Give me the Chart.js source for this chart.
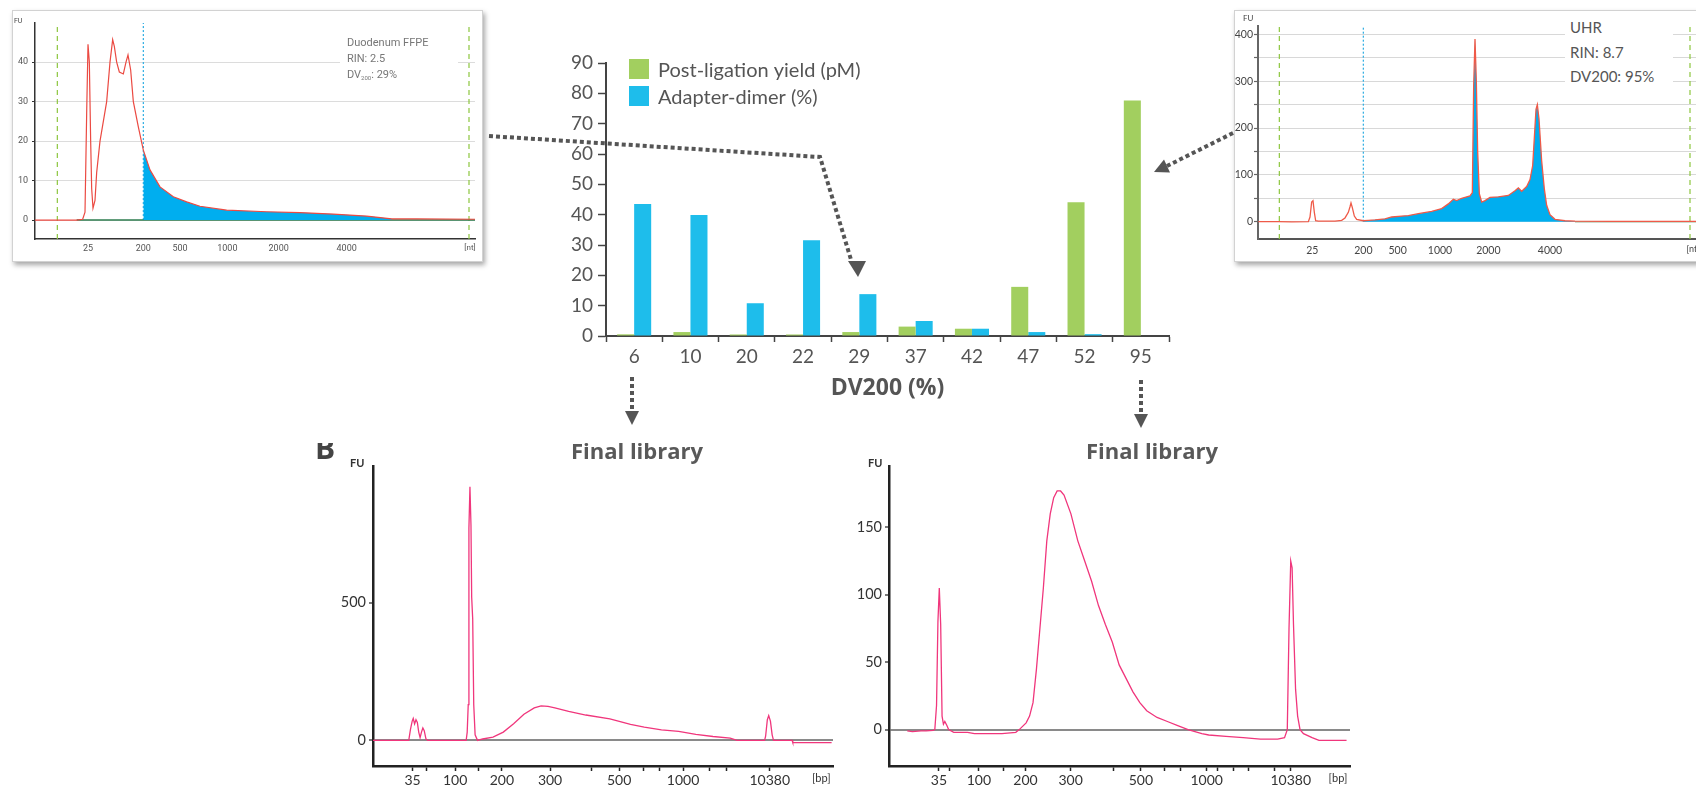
<!DOCTYPE html>
<html>
<head>
<meta charset="utf-8">
<script src="https://cdn.jsdelivr.net/npm/chart.js@4.4.1/dist/chart.umd.min.js"></script>
<style>
  html, body { margin: 0; padding: 0; background: #fff; }
  #page { position: relative; width: 1696px; height: 786px; overflow: hidden; background: #fff; }
  canvas { position: absolute; }
  .box { position: absolute; box-sizing: border-box; background: #fff; border: 1px solid #d2d2d2; box-shadow: 2px 3px 5px rgba(0,0,0,.35); }
  .txt { position: absolute; white-space: nowrap; }
  .title { font: bold 22px "Open Sans", sans-serif; color: #595959; transform: translateX(-50%); }
  .fu { font: bold 11px Lato, sans-serif; color: #333; }
</style>
</head>
<body>
<div id="page">
  <div class="box" style="left:12px;top:10px;width:471px;height:252px"></div>
  <div class="box" style="left:1234px;top:10px;width:520px;height:252px"></div>

  <canvas id="ffpe" width="469" height="250" style="left:13px;top:11px"></canvas>
  <canvas id="uhr" width="480" height="250" style="left:1235px;top:11px"></canvas>
  <canvas id="bars" width="640" height="370" style="left:540px;top:40px"></canvas>
  <canvas id="lib6" width="520" height="331" style="left:320px;top:455px"></canvas>
  <canvas id="lib95" width="510" height="331" style="left:850px;top:455px"></canvas>

  <!-- inset captions -->
  <div class="txt" style="left:340px;top:35px;width:118px;height:48px;background:#fff"></div>
  <div class="txt" style="left:347px;top:35px;font:11px Roboto,sans-serif;color:#777;line-height:16px">
    Duodenum FFPE<br>RIN: 2.5<br>DV<sub style="font-size:6px;vertical-align:-2px">200</sub>: 29%
  </div>
  <div class="txt" style="left:14px;top:17px;font:7px Roboto,sans-serif;color:#444">FU</div>

  <div class="txt" style="left:1565px;top:15px;width:108px;height:74px;background:#fff"></div>
  <div class="txt" style="left:1570px;top:15px;font:15px Lato,sans-serif;color:#555;line-height:24.5px">
    UHR<br>RIN: 8.7<br>DV200: 95%
  </div>
  <div class="txt" style="left:1243px;top:13px;font:8px Lato,sans-serif;color:#444">FU</div>

  <!-- final library captions -->
  <div class="txt" style="left:312px;top:443px;width:30px;height:18px;overflow:hidden">
    <div style="position:absolute;left:3px;top:-10px;font:bold 30px 'Open Sans',sans-serif;color:#444;line-height:30px">B</div>
  </div>
  <div class="txt title" style="left:637px;top:435px">Final library</div>
  <div class="txt title" style="left:1152px;top:435px">Final library</div>
  <div class="txt fu" style="left:350px;top:456px">FU</div>
  <div class="txt fu" style="left:868px;top:456px">FU</div>

  <svg width="1696" height="786" style="position:absolute;left:0;top:0;pointer-events:none">
    <g stroke="#555" stroke-width="4" stroke-dasharray="4 3" fill="none">
      <polyline points="489,136 820,157 852,263"/>
      <line x1="1233" y1="133" x2="1167" y2="166"/>
      <line x1="632" y1="377" x2="632" y2="412"/>
      <line x1="1141" y1="380" x2="1141" y2="414"/>
    </g>
    <g fill="#555">
      <polygon points="848,261 866,261 858,277"/>
      <polygon points="1154,172 1164,159.5 1170,172.5"/>
      <polygon points="625,411 639,411 632,425"/>
      <polygon points="1134,414 1148,414 1141,428"/>
    </g>
  </svg>
</div>

<script>
// ---------- bar chart: yield / adapter-dimer vs DV200
const dv200 = ['6', '10', '20', '22', '29', '37', '42', '47', '52', '95'];
const yieldPM = [0.55, 1.3, 0.5, 0.5, 1.3, 3.1, 2.4, 16.2, 44.1, 77.6];
const dimerPct = [43.5, 39.9, 10.8, 31.6, 13.8, 4.95, 2.4, 1.3, 0.6, 0];

// ---------- electropherograms (t = migration position, arbitrary units)
// Duodenum FFPE RNA
const ffpeT = [10.5, 17, 23, 24.8, 25.5, 26.0, 26.4, 26.8, 27.2, 27.5, 27.9, 28.5, 29, 30, 32, 33, 33.8, 34.3, 35, 35.8,
               37, 37.8, 38.4, 39.2, 40, 41.5, 43, 45, 48, 52, 56, 60, 68, 80, 90, 100, 110, 117.5, 125, 142.5];
const ffpeFU = [0, 0, 0, 0.2, 2, 27, 44.5, 40, 20, 8, 3, 5, 12, 20, 30, 40, 45.7, 44, 40, 37.5,
                37, 40, 41.8, 38, 30, 23.6, 17.7, 12.7, 8.4, 5.9, 4.6, 3.5, 2.5, 2.1, 1.9, 1.5, 1.0, 0.3, 0.3, 0.2];
const ffpeLadderPos = [26.4, 43.0, 54.0, 68.2, 83.6, 104.0, 141.0];
const ffpeLadderLbl = ['25', '200', '500', '1000', '2000', '4000', '[nt]'];
const ffpeFUTicks = [0, 10, 20, 30, 40];

// UHR RNA
const uhrT = [10, 16, 20, 25, 25.5, 26, 26.4, 26.8, 27.2, 28, 33, 35, 36, 37, 37.5, 37.8, 38.2, 38.8, 39.5, 41.5,
              43, 45, 48, 50, 53, 55, 58, 62, 65, 67, 68.5, 69.5, 71, 72, 73.5, 74.2, 74.6, 75.0, 75.4, 75.8,
              76.3, 77, 78, 79.5, 82, 85, 87, 88, 89, 90.5, 91.5, 92.3, 92.8, 93.3, 93.7, 94.2, 95, 95.8, 96.5, 97.5,
              99, 102, 105, 116, 145.5];
const uhrFU = [0, 0, -0.5, 0, 10, 42, 45, 20, 2, 1, 1, 3, 8, 20, 32, 40, 30, 12, 5, 2,
               3, 4, 6, 10, 12, 13, 17, 22, 28, 38, 48, 45, 50, 52, 55, 62, 290, 390, 300, 150,
               60, 42, 45, 52, 53, 56, 66, 72, 65, 75, 90, 120, 180, 240, 250, 220, 130, 70, 35, 15,
               5, 2, 1, 0.5, 0.5];
const uhrLadderPos = [26.2, 41.5, 51.8, 64.5, 79.0, 97.5, 140.5];
const uhrLadderLbl = ['25', '200', '500', '1000', '2000', '4000', '[nt]'];
const uhrFUTicks = [0, 50, 100, 150, 200, 250, 300, 350, 400];

// Final library, DV200 = 6
const lib6T = [21, 31.5, 32, 32.5, 32.8, 33.2, 33.6, 34.0, 34.4, 34.8, 35.2, 35.6, 36.0, 36.5, 37, 48.2, 48.5, 48.8, 49.0, 49.3,
               49.6, 49.8, 50.1, 50.4, 50.8, 51.5, 53, 56, 59, 62, 65, 68, 70, 72, 74, 78, 83, 90, 96, 100,
               105, 110, 115, 120, 125, 127, 135, 135.3, 135.8, 136.2, 136.7, 137.2, 137.6, 143, 143.2, 154.5];
const lib6FU = [0, 0, 40, 70, 80, 60, 75, 65, 30, 10, 30, 45, 35, 5, 0, 0, 30, 130, 770, 920,
                780, 520, 440, 130, 20, 0, 5, 12, 30, 60, 95, 118, 125, 123, 118, 105, 92, 78, 58, 48,
                38, 33, 22, 14, 8, 0, 0, 15, 75, 90, 70, 20, 0, 0, -8, -8];
const lib6Pos = [32.6, 36.6, 45.0, 51.8, 58.6, 72.6, 84.7, 92.7, 99.7, 104.3, 111.3, 119.1, 123.9, 136.5, 151.5];
const lib6Lbl = ['35', '', '100', '', '200', '300', '', '500', '', '', '1000', '', '', '10380', '[bp]'];
const lib6FUTicks = [0, 500];

// Final library, DV200 = 95
const lib95T = [22.5, 24, 26.5, 28, 30, 30.5, 31, 31.4, 31.8, 32.2, 32.6, 33, 33.4, 34, 34.5, 36, 40, 42, 50, 54,
                55, 57, 58, 59, 60, 61, 62, 63, 64, 65, 66, 67, 68, 70, 72, 74, 76, 78, 80, 82,
                84, 86, 88, 90, 92, 95, 98, 101, 104, 108, 110, 115, 120, 125, 130, 132, 132.8, 133.3, 133.8, 134.2,
                134.6, 135.2, 135.8, 136.5, 137.5, 140, 142, 150];
const lib95FU = [-1, -1.5, -1, -1, -0.5, 0, 18, 80, 105, 78, 10, 4, 6, 3, 0, -2, -2, -3, -3, -2,
                 0, 5, 10, 20, 45, 75, 105, 140, 160, 172, 177, 177, 174, 160, 140, 125, 110, 92, 78, 65,
                 48, 38, 28, 20, 14, 9, 6, 3, 0, -3, -4, -5, -6, -7, -7, -6, 0, 75, 125, 120,
                 78, 30, 10, 0, -3, -6, -8, -8];
const lib95Pos = [31.7, 34.9, 43.3, 50.3, 56.8, 69.9, 82.3, 90.3, 97.3, 101.9, 109.4, 112.6, 117.1, 121.5, 129.0, 133.8, 147.5];
const lib95Lbl = ['35', '', '100', '', '200', '300', '', '500', '', '', '1000', '', '', '', '', '10380', '[bp]'];
const lib95FUTicks = [0, 50, 100, 150];

const GREEN = '#A2CF5F';
const BLUE = '#1EBDEB';

function pts(xs, ys) {
    return xs.map((x, i) => ({ x, y: ys[i] }));
}

// Legend drawn inside the plot area, top-left
const cornerLegend = {
    id: 'cornerLegend',
    afterDraw(chart) {
        const { ctx, chartArea } = chart;
        ctx.save();
        ctx.font = '20px Lato';
        ctx.textBaseline = 'middle';
        chart.data.datasets.forEach((ds, i) => {
            const y = chartArea.top - 4 + i * 27;
            ctx.fillStyle = ds.backgroundColor;
            ctx.fillRect(chartArea.left + 23, y, 20, 20);
            ctx.fillStyle = '#555';
            ctx.fillText(ds.label, chartArea.left + 52, y + 11.5);
        });
        ctx.restore();
    }
};

new Chart(document.getElementById('bars'), {
    type: 'bar',
    data: {
        labels: dv200,
        datasets: [
            { label: 'Post-ligation yield (pM)', data: yieldPM, backgroundColor: GREEN },
            { label: 'Adapter-dimer (%)', data: dimerPct, backgroundColor: BLUE },
        ],
    },
    options: {
        responsive: false, animation: false, events: [],
        layout: { padding: { top: 23, right: 11, left: 0, bottom: 0 } },
        datasets: { bar: { barPercentage: 1, categoryPercentage: 0.605 } },
        plugins: { legend: { display: false }, tooltip: { enabled: false } },
        scales: {
            x: {
                afterFit: s => { s.height = 74; },
                border: { color: '#444', width: 2 },
                grid: { drawOnChartArea: false, tickLength: 6, tickColor: '#444', tickWidth: 1.5 },
                ticks: { color: '#555', padding: 3, font: { family: 'Lato', size: 19 } },
                title: {
                    display: true, text: 'DV200 (%)', color: '#555',
                    font: { family: 'Open Sans', size: 23, weight: 'bold', lineHeight: 1.2 },
                    padding: { top: 0, bottom: 8 },
                },
            },
            y: {
                min: 0, max: 90,
                afterFit: s => { s.width = 66; },
                border: { color: '#444', width: 2 },
                grid: { drawOnChartArea: false, tickLength: 8, tickColor: '#444', tickWidth: 1.5 },
                ticks: { stepSize: 10, color: '#555', padding: 5, font: { family: 'Lato', size: 19 } },
            },
        },
    },
    plugins: [cornerLegend],
});

function traceChart(id, o) {
    const lastX = o.xPos.length - 1;
    const ds = [{ data: pts(o.t, o.fu), borderColor: o.color, borderWidth: o.lw, pointRadius: 0, tension: 0, fill: false }];
    if (o.fillFrom !== undefined) {
        const keep = o.t.map((_, i) => i).filter(i => o.t[i] >= o.fillFrom && o.t[i] <= o.fillTo);
        ds.push({ data: keep.map(i => ({ x: o.t[i], y: o.fu[i] })), borderWidth: 0, pointRadius: 0,
                  backgroundColor: '#00AEEF', fill: 'origin' });
    }
    if (o.baseline) {
        ds.push({ data: [{ x: o.baseline[0], y: 0 }, { x: o.baseline[1], y: 0 }], borderColor: o.baseColor,
                  borderWidth: 1.5, pointRadius: 0 });
    }
    (o.markers || []).forEach(m => {
        ds.push({ data: [{ x: m, y: o.yMin }, { x: m, y: o.yMax }], borderColor: '#8DC63F', borderWidth: 1.2,
                  borderDash: [5, 4], pointRadius: 0 });
    });
    if (o.cut !== undefined) {
        ds.push({ data: [{ x: o.cut, y: 0 }, { x: o.cut, y: o.yMax }], borderColor: '#29ABE2', borderWidth: 1.2,
                  borderDash: [2, 2], pointRadius: 0 });
    }

    new Chart(document.getElementById(id), {
        type: 'line',
        data: { datasets: ds },
        options: {
            responsive: false, animation: false, events: [],
            layout: { padding: o.pad },
            plugins: { legend: { display: false }, tooltip: { enabled: false } },
            scales: {
                x: {
                    type: 'linear', min: o.xMin, max: o.xMax,
                    afterBuildTicks: s => { s.ticks = o.xPos.map(v => ({ value: v })); },
                    afterFit: s => { s.height = o.xH; },
                    border: { color: o.xAxisColor, width: o.axisW },
                    grid: {
                        drawOnChartArea: false, drawTicks: o.xTickLen > 0, tickLength: o.xTickLen, tickWidth: 1.5,
                        tickColor: c => (c.index === lastX ? 'rgba(0,0,0,0)' : o.xAxisColor),
                    },
                    ticks: {
                        autoSkip: false, maxRotation: 0, padding: o.xPad, color: o.tickColor,
                        font: c => ({ family: o.font, size: c.index === lastX ? o.unitSize : o.tickSize }),
                        callback: (v, i) => o.xLbl[i],
                    },
                },
                y: {
                    min: o.yMin, max: o.yMax,
                    afterBuildTicks: s => { s.ticks = o.yPos.map(v => ({ value: v })); },
                    afterFit: s => { s.width = o.yW; },
                    border: { color: o.yAxisColor, width: o.axisW },
                    grid: { color: o.gridColor, lineWidth: o.gridW, tickLength: o.yTickLen, tickColor: o.yAxisColor, tickWidth: 1.2 },
                    ticks: {
                        padding: o.yPad, color: o.tickColor, font: { family: o.font, size: o.yTickSize },
                        callback: o.yLabel || (v => v),
                    },
                },
            },
        },
    });
}

traceChart('ffpe', {
    t: ffpeT, fu: ffpeFU, color: '#EB4A42', lw: 1.2,
    fillFrom: 43.0, fillTo: 117.5, baseline: [23, 142.5], baseColor: '#2E7D4F',
    markers: [17.2, 140.7], cut: 43.0,
    xMin: 10.5, xMax: 142.5, yMin: -4.8, yMax: 49.9,
    xPos: ffpeLadderPos, xLbl: ffpeLadderLbl, yPos: ffpeFUTicks,
    pad: { top: 12, right: 7, left: 0, bottom: 0 }, xH: 22, yW: 22,
    xAxisColor: '#333', yAxisColor: '#333', axisW: 1.5, xTickLen: 0, xPad: 4, yTickLen: 3, yPad: 4,
    gridColor: '#dcdcdc', gridW: 1, tickColor: '#555', font: 'Roboto', tickSize: 9, unitSize: 8, yTickSize: 9,
});

traceChart('uhr', {
    t: uhrT, fu: uhrFU, color: '#EF5A48', lw: 1.3,
    fillFrom: 41.5, fillTo: 105, baseline: [105, 145.5], baseColor: '#9AB59A',
    markers: [16.3, 139.5], cut: 41.5,
    xMin: 9.9, xMax: 145.5, yMin: -37, yMax: 418,
    xPos: uhrLadderPos, xLbl: uhrLadderLbl, yPos: uhrFUTicks,
    yLabel: v => (v % 100 === 0 ? v : ''),
    pad: { top: 15, right: 5, left: 0, bottom: 0 }, xH: 22, yW: 23,
    xAxisColor: '#555', yAxisColor: '#666', axisW: 2, xTickLen: 0, xPad: 5, yTickLen: 4, yPad: 1,
    gridColor: '#d8d8d8', gridW: 1, tickColor: '#444', font: 'Lato', tickSize: 10.5, unitSize: 9, yTickSize: 10.5,
});

traceChart('lib6', {
    t: lib6T, fu: lib6FU, color: '#F0367C', lw: 1.3,
    xMin: 21.1, xMax: 154.9, yMin: -93, yMax: 993,
    xPos: lib6Pos, xLbl: lib6Lbl, yPos: lib6FUTicks,
    pad: { top: 7, right: 7, left: 0, bottom: 0 }, xH: 20, yW: 53,
    xAxisColor: '#222', yAxisColor: '#222', axisW: 2.5, xTickLen: 5, xPad: 1, yTickLen: 4, yPad: 3,
    gridColor: c => (c.tick.value === 0 ? '#8a8a8a' : 'rgba(0,0,0,0)'), gridW: 2,
    tickColor: '#333', font: 'Lato', tickSize: 14, unitSize: 11, yTickSize: 14.5,
});

traceChart('lib95', {
    t: lib95T, fu: lib95FU, color: '#F0367C', lw: 1.3,
    xMin: 17.2, xMax: 151.0, yMin: -27, yMax: 195,
    xPos: lib95Pos, xLbl: lib95Lbl, yPos: lib95FUTicks,
    pad: { top: 7, right: 10, left: 0, bottom: 0 }, xH: 20, yW: 39,
    xAxisColor: '#222', yAxisColor: '#222', axisW: 2.5, xTickLen: 5, xPad: 1, yTickLen: 4, yPad: 3,
    gridColor: c => (c.tick.value === 0 ? '#8a8a8a' : 'rgba(0,0,0,0)'), gridW: 2,
    tickColor: '#333', font: 'Lato', tickSize: 14, unitSize: 11, yTickSize: 14.5,
});
</script>
</body>
</html>
